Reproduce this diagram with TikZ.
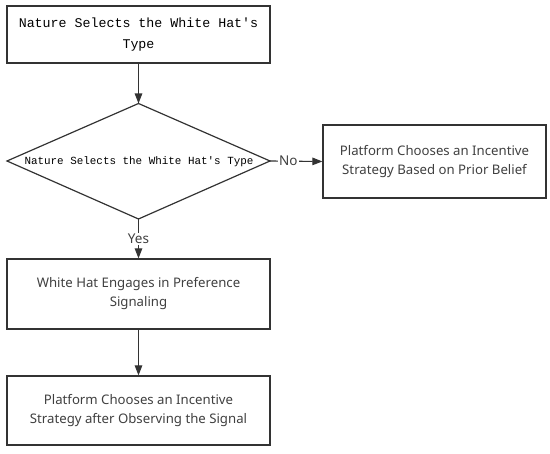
\documentclass[tikz,border=0pt]{standalone}
\usepackage{fontspec}
\setmainfont{Noto Sans}
\newfontfamily\monof{Liberation Mono}
\usetikzlibrary{arrows.meta}
\definecolor{lc}{HTML}{333333}
\definecolor{tc}{HTML}{404040}
\begin{document}
\begin{tikzpicture}[x=1pt,y=1pt,
  boxs/.style={draw=lc,line width=1.2pt,fill=white,inner sep=0pt,align=center},
  conn/.style={draw=lc,line width=1.1pt,-{Triangle[length=10pt,width=7.5pt]}},
  lab/.style={fill=white,inner sep=1pt,text=tc,font=\fontsize{13.5}{15}\selectfont}]
\useasboundingbox (0,0) rectangle (550,454);
\node[boxs,minimum width=263pt,minimum height=57pt,font=\monof\fontsize{13.3}{21}\selectfont] (b1) at (138.5,419.5) {Nature Selects the White Hat's\\Type};
% diamond
\coordinate (dt) at (138.5,350.5);
\coordinate (db) at (138.5,235);
\coordinate (dl) at (7,293);
\coordinate (dr) at (270,293);
\draw[lc,line width=1.2pt] (dt) -- (dr) -- (db) -- (dl) -- cycle;
\node[font=\monof\fontsize{10.9}{13}\selectfont,inner sep=0pt] (dtext) at (139,292) {Nature Selects the White Hat's Type};
\node[boxs,minimum width=223pt,minimum height=73pt,text=tc,font=\fontsize{13.2}{19}\selectfont] (br) at (434.5,292.5) {Platform Chooses an Incentive\\Strategy Based on Prior Belief};
\node[boxs,minimum width=263pt,minimum height=70pt,text=tc,font=\fontsize{13.2}{19}\selectfont] (b2) at (138.5,160) {White Hat Engages in Preference\\Signaling};
\node[boxs,minimum width=263pt,minimum height=69pt,text=tc,font=\fontsize{13.2}{19}\selectfont] (b3) at (138.5,43.5) {Platform Chooses an Incentive\\Strategy after Observing the Signal};
\draw[conn] (b1.south) -- (dt);
\draw[conn] (dr) -- node[lab,pos=0.35] {No} (br.west);
\draw[conn] (db) -- node[lab,pos=0.5] {Yes} (b2.north);
\draw[conn] (b2.south) -- (b3.north);
\end{tikzpicture}
\end{document}
